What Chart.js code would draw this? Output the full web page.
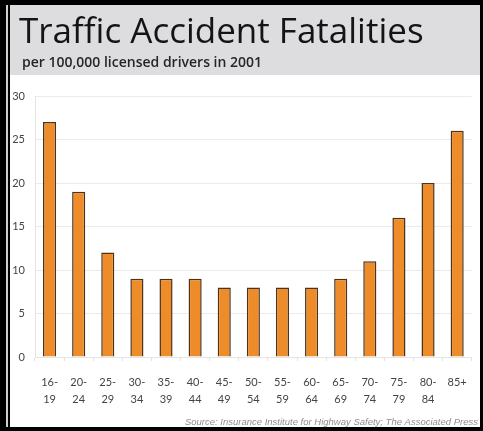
<!DOCTYPE html>
<html>
<head>
<meta charset="utf-8">
<script src="https://cdn.jsdelivr.net/npm/chart.js@4"></script>
<style>
  html, body { margin: 0; padding: 0; background: #000; }
  body { width: 483px; height: 431px; position: relative; overflow: hidden; }
  /* thin light stripe near the left edge */
  #stripe { position: absolute; left: 6px; top: 5px; width: 2px; height: 422px; background: #cfcfcf; }
  #panel { position: absolute; left: 10px; top: 5px; width: 470px; height: 422px; background: #fff; }
</style>
</head>
<body>
<div id="stripe"></div>
<div id="panel"><canvas id="chart" width="470" height="422"></canvas></div>
<script>
// data
const ageGroups = [["16-","19"],["20-","24"],["25-","29"],["30-","34"],["35-","39"],["40-","44"],["45-","49"],["50-","54"],["55-","59"],["60-","64"],["65-","69"],["70-","74"],["75-","79"],["80-","84"],"85+"];
const fatalities = [27, 19, 12, 9, 9, 9, 8, 8, 8, 8, 9, 11, 16, 20, 26];
const yTicks = [0, 5, 10, 15, 20, 25, 30];

const titleText = "Traffic Accident Fatalities";
const subtitleText = "per 100,000 licensed drivers in 2001";
const sourceText = "Source: Insurance Institute for Highway Safety; The Associated Press";

// grey header band with title, plus the source line
const decor = {
  id: "decor",
  beforeDraw(chart){
    const c = chart.ctx;
    c.save();
    c.fillStyle = "#dddde0";
    c.fillRect(0, 0, chart.width, 70);
    c.textAlign = "left";
    c.textBaseline = "alphabetic";
    c.fillStyle = "#141414";
    c.font = "normal 35px 'Open Sans'";
    c.fillText(titleText, 9, 38);
    c.fillStyle = "#262626";
    c.font = "600 14px 'Open Sans'";
    c.fillText(subtitleText, 12, 62);
    c.restore();
  },
  afterDraw(chart){
    const c = chart.ctx;
    c.save();
    c.font = "italic 9.5px 'Liberation Sans'";
    c.fillStyle = "#8e8e8e";
    c.textAlign = "right";
    c.textBaseline = "middle";
    c.fillText(sourceText, chart.width - 2, 417);
    c.restore();
  }
};

new Chart(document.getElementById("chart"), {
  type: "bar",
  data: {
    labels: ageGroups,
    datasets: [{
      data: fatalities,
      backgroundColor: "#ee8c2a",
      borderColor: "#4d321c",
      borderWidth: 1.5,
      barPercentage: 0.45,
      categoryPercentage: 1
    }]
  },
  options: {
    responsive: false,
    animation: false,
    layout: { padding: { left: 0, right: 8, top: 91, bottom: 10 } },
    plugins: {
      legend: { display: false },
      tooltip: { enabled: false },
      title: { display: false }
    },
    scales: {
      x: {
        // only small tick marks between the categories
        grid: { display: true, drawOnChartArea: false, tickLength: 4, color: "#e2e2e2" },
        border: { color: "#e4e4e4" },
        ticks: {
          color: "#444",
          font: { family: "'Lato'", size: 11, lineHeight: 1.55 },
          padding: 13,
          maxRotation: 0,
          autoSkip: false
        },
        afterFit: s => { s.height = 60; }
      },
      y: {
        min: 0,
        max: 30,
        afterBuildTicks: s => { s.ticks = yTicks.map(v => ({ value: v })); },
        grid: { color: "#ebebeb", drawTicks: false },
        border: { color: "#e4e4e4" },
        ticks: {
          color: "#444",
          font: { family: "'Lato'", size: 11 },
          padding: 10
        },
        afterFit: s => { s.width = 25; }
      }
    }
  },
  plugins: [decor]
});
</script>
</body>
</html>
